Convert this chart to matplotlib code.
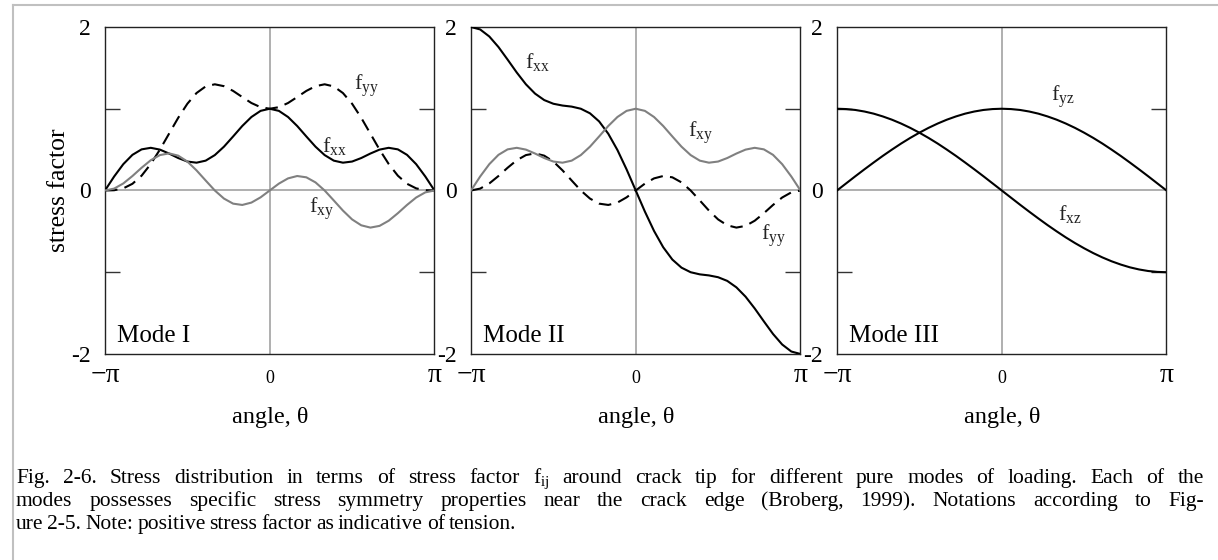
import numpy as np
import matplotlib
matplotlib.use('Agg')
import matplotlib.pyplot as plt
from matplotlib.lines import Line2D

plt.rcParams['font.family'] = ['Liberation Serif', 'DejaVu Serif']
plt.rcParams['mathtext.fontset'] = 'custom'
plt.rcParams['mathtext.rm'] = 'Liberation Serif'
plt.rcParams['mathtext.it'] = 'Liberation Serif:italic'

# angle in degrees, -180..180 step 10
angle_deg = np.arange(-180, 181, 10)
theta = np.deg2rad(angle_deg)

# Mode I
fxx_I = [0, .171, .322, .436, .503, .522, .500, .452, .397, .354, .340, .365, .433, .536, .661, .789, .899, .974, 1.0,
         .974, .899, .789, .661, .536, .433, .365, .340, .354, .397, .452, .500, .522, .503, .436, .322, .171, 0]
fyy_I = [0, .003, .026, .082, .181, .324, .500, .695, .889, 1.061, 1.192, 1.273, 1.299, 1.276, 1.218, 1.143, 1.070, 1.019, 1.0,
         1.019, 1.070, 1.143, 1.218, 1.276, 1.299, 1.273, 1.192, 1.061, .889, .695, .500, .324, .181, .082, .026, .003, 0]
fxy_I = [0, .023, .086, .177, .278, .370, .433, .454, .426, .354, .246, .122, 0, -.099, -.161, -.177, -.148, -.084, 0,
         .084, .148, .177, .161, .099, 0, -.122, -.246, -.354, -.426, -.454, -.433, -.370, -.278, -.177, -.086, -.023, 0]

# Mode II
fxx_II = [2.0, 1.970, 1.884, 1.755, 1.601, 1.443, 1.299, 1.185, 1.106, 1.061, 1.039, 1.026, 1.0, .944, .845, .694, .495, .258, 0,
          -.258, -.495, -.694, -.845, -.944, -1.0, -1.026, -1.039, -1.061, -1.106, -1.185, -1.299, -1.443, -1.601, -1.755, -1.884, -1.970, -2.0]
fyy_II = [0, .023, .086, .177, .278, .370, .433, .454, .426, .354, .246, .122, 0, -.099, -.161, -.177, -.148, -.084, 0,
          .084, .148, .177, .161, .099, 0, -.122, -.246, -.354, -.426, -.454, -.433, -.370, -.278, -.177, -.086, -.023, 0]
fxy_II = [0, .171, .322, .436, .503, .522, .500, .452, .397, .354, .340, .365, .433, .536, .661, .789, .899, .974, 1.0,
          .974, .899, .789, .661, .536, .433, .365, .340, .354, .397, .452, .500, .522, .503, .436, .322, .171, 0]

# Mode III
fyz_III = [0, .087, .174, .259, .342, .423, .500, .574, .643, .707, .766, .819, .866, .906, .940, .966, .985, .996, 1.0,
           .996, .985, .966, .940, .906, .866, .819, .766, .707, .643, .574, .500, .423, .342, .259, .174, .087, 0]
fxz_III = [1.0, .996, .985, .966, .940, .906, .866, .819, .766, .707, .643, .574, .500, .423, .342, .259, .174, .087, 0,
           -.087, -.174, -.259, -.342, -.423, -.500, -.574, -.643, -.707, -.766, -.819, -.866, -.906, -.940, -.966, -.985, -.996, -1.0]

caption = [
    "Fig. 2-6. Stress distribution in terms of stress factor f$_{\\mathrm{ij}}$ around crack tip for different pure modes of loading. Each of the",
    "modes possesses specific stress symmetry properties near the crack edge (Broberg, 1999). Notations according to Fig-",
    "ure 2-5. Note: positive stress factor as indicative of tension.",
]

black = '#000000'
gray = '#808080'
dash = (0, (6, 3.5))

fig = plt.figure(figsize=(12.18, 5.6), dpi=100)

lefts = [0.0862, 0.3867, 0.6872]
width = 0.2705
bottom, height = 0.3679, 0.5839

panels = [
    ("Mode I", [(fxx_I, black, '-'), (fyy_I, black, dash), (fxy_I, gray, '-')],
     [("xx", 1.00, 0.47), ("yy", 1.61, 1.23), ("xy", 0.74, -0.27)]),
    ("Mode II", [(fxx_II, black, '-'), (fyy_II, black, dash), (fxy_II, gray, '-')],
     [("xx", -2.11, 1.50), ("xy", 1.00, 0.66), ("yy", 2.38, -0.60)]),
    ("Mode III", [(fyz_III, black, '-'), (fxz_III, black, '-')],
     [("yz", 0.93, 1.09), ("xz", 1.08, -0.36)]),
]

for i, (mode, curves, labels) in enumerate(panels):
    ax = fig.add_axes([lefts[i], bottom, width, height])
    ax.set_xlim(-np.pi, np.pi)
    ax.set_ylim(-2, 2)
    ax.axhline(0, color='#9a9a9a', lw=1.1, zorder=1)
    ax.axvline(0, color='#9a9a9a', lw=1.1, zorder=1)
    for vals, col, ls in curves:
        ax.plot(theta, vals, color=col, ls=ls, lw=1.5, zorder=3)
    for sub, x, y in labels:
        ax.text(x, y, "f$_{\\mathrm{%s}}$" % sub, fontsize=16, ha='left', va='baseline', color='#222222')
    ax.text(0.036, 0.037, mode, transform=ax.transAxes, fontsize=18, ha='left', va='baseline')

    ax.set_yticks([-2, 0, 2])
    ax.set_yticklabels(['-2', '0', '2'], fontsize=17)
    ax.set_yticks([-1, 1], minor=True)
    ax.tick_params(axis='y', which='major', length=0, pad=10)
    ax.tick_params(axis='y', which='minor', direction='in', length=11, width=1,
                   left=True, right=True, color='#333333')
    ax.set_xticks([])
    tr = ax.get_xaxis_transform()
    ax.text(-np.pi, -0.028, "\u2212\u03c0", transform=tr, fontsize=20, ha='center', va='top')
    ax.text(np.pi, -0.028, "\u03c0", transform=tr, fontsize=20, ha='center', va='top')
    ax.text(0, -0.05, "0", transform=tr, fontsize=13, ha='center', va='top')
    ax.text(0.5, -0.195, "angle, \u03b8", transform=ax.transAxes, fontsize=17.5, ha='center', va='center')
    for s in ax.spines.values():
        s.set_color('#222222')
        s.set_linewidth(1.0)
    if i == 0:
        ax.set_ylabel("stress factor", fontsize=18.5)
        ax.yaxis.set_label_coords(-0.106, 0.5)

# frame of the page
fig.add_artist(Line2D([13 / 1218, 1], [1 - 5 / 560, 1 - 5 / 560], color='#c0c0c0', lw=1.5, transform=fig.transFigure))
fig.add_artist(Line2D([13 / 1218, 13 / 1218], [0, 1 - 5 / 560], color='#c0c0c0', lw=1.5, transform=fig.transFigure))

# caption, justified by word spacing
renderer = fig.canvas.get_renderer()
x0, x1 = 16 / 1218, 1204 / 1218
baselines = [1 - 483 / 560, 1 - 506 / 560, 1 - 529 / 560]
for k, line in enumerate(caption):
    words = line.split(' ')
    texts = [fig.text(0, baselines[k], w, fontsize=15.5, ha='left', va='baseline') for w in words]
    widths = [t.get_window_extent(renderer).width / (12.18 * 100) for t in texts]
    if k < len(caption) - 1:
        gap = (x1 - x0 - sum(widths)) / (len(words) - 1)
    else:
        gap = 4.0 / 1218
    x = x0
    for t, w in zip(texts, widths):
        t.set_x(x)
        x += w + gap

fig.savefig('out.png', dpi=100)
